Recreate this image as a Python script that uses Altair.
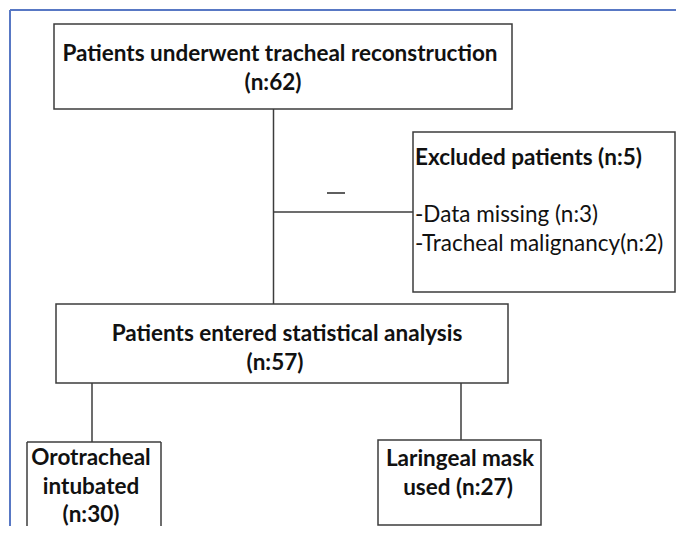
import altair as alt
import pandas as pd

# ---- content of the flow chart ----
node_titles = [
    "Patients underwent tracheal reconstruction",
    "Excluded patients",
    "Patients entered statistical analysis",
    "Orotracheal intubated",
    "Laringeal mask used",
]
node_counts = [62, 5, 57, 30, 27]
excluded_reasons = ["Data missing", "Tracheal malignancy"]
excluded_counts = [3, 2]

# ---- text lines per node (content built from the lists above) ----
lines = [
    [node_titles[0], f"(n:{node_counts[0]})"],
    [f"{node_titles[1]} (n:{node_counts[1]})", "",
     f"-{excluded_reasons[0]} (n:{excluded_counts[0]})",
     f"-{excluded_reasons[1]}(n:{excluded_counts[1]})"],
    [node_titles[2], f"(n:{node_counts[2]})"],
    ["Orotracheal", "intubated", f"(n:{node_counts[3]})"],
    ["Laringeal mask", f"used (n:{node_counts[4]})"],
]

# ---- layout (pixel positions in page coordinates) ----
boxes = [  # x, x2, y, y2
    (54, 512, 24, 109),
    (413, 675, 132, 292),
    (56, 508, 304, 383),
    (27, 161, 442, 527),
    (378, 541, 440, 525),
]
closed = [True, True, True, False, True]
line_pos = [  # per node: list of (x, y), align, bold flags
    ([(280, 54), (273, 83)], "center", [True, True]),
    ([(415, 158), (415, 186), (415, 215), (415, 244)], "left", [True, False, False, False]),
    ([(287, 334), (275, 363)], "center", [True, True]),
    ([(91, 458), (91, 487), (91, 515)], "center", [True, True, True]),
    ([(460, 459), (458, 488)], "center", [True, True]),
]
connectors = [  # x, x2, y, y2
    (273.5, 273.5, 109, 304),
    (273.5, 413, 212, 212),
    (92, 92, 383, 442),
    (461, 461, 383, 440),
]
dash = [(327, 345, 193, 193)]
frame = [(10, 676, 10, 10), (10, 10, 10, 526)]

FONT = "Lato"
FS = 22.5

xs = alt.Scale(domain=[8, 676], nice=False, zero=False)
ys = alt.Scale(domain=[8, 526], nice=False, zero=False, reverse=True)

def X(f):
    return alt.X(f, type="quantitative", scale=xs, axis=None)

def Y(f):
    return alt.Y(f, type="quantitative", scale=ys, axis=None)

rect_df = pd.DataFrame([dict(x=b[0], x2=b[1], y=b[2], y2=b[3])
                        for b, c in zip(boxes, closed) if c])
open_edges = []
for b, c in zip(boxes, closed):
    if not c:
        x, x2, y, y2 = b
        open_edges += [(x, x, y, y2), (x2, x2, y, y2), (x, x2, y, y)]
edge_df = pd.DataFrame([dict(x=a, x2=b, y=c, y2=d) for a, b, c, d in connectors + open_edges])
dash_df = pd.DataFrame([dict(x=a, x2=b, y=c, y2=d) for a, b, c, d in dash])
frame_df = pd.DataFrame([dict(x=a, x2=b, y=c, y2=d) for a, b, c, d in frame])

rows = []
for node_lines, (pos, al, bolds) in zip(lines, line_pos):
    for t, (px, py), bd in zip(node_lines, pos, bolds):
        if t:
            rows.append(dict(text=t, x=px, y=py, al=al, bd=bd))
text_df = pd.DataFrame(rows)

frame_layer = alt.Chart(frame_df).mark_rule(color="#5878c4", strokeWidth=2).encode(
    x=X("x"), x2="x2", y=Y("y"), y2="y2")
rect_layer = alt.Chart(rect_df).mark_rect(
    fill="white", fillOpacity=0, stroke="#3c3c3c", strokeWidth=1.5).encode(
    x=X("x"), x2="x2", y=Y("y"), y2="y2")
edge_layer = alt.Chart(edge_df).mark_rule(color="#3c3c3c", strokeWidth=1.5).encode(
    x=X("x"), x2="x2", y=Y("y"), y2="y2")
dash_layer = alt.Chart(dash_df).mark_rule(color="#2a2a2a", strokeWidth=1.5).encode(
    x=X("x"), x2="x2", y=Y("y"), y2="y2")

def text_layer(df, align, bold):
    return alt.Chart(df).mark_text(
        font=FONT, fontSize=FS, fontWeight="bold" if bold else "normal",
        align=align, baseline="middle", color="#111111").encode(
        x=X("x"), y=Y("y"), text="text:N")

layers = [frame_layer, rect_layer, edge_layer, dash_layer]
for al in ["center", "left"]:
    for bd in [True, False]:
        sub = text_df[(text_df["al"] == al) & (text_df["bd"] == bd)][["text", "x", "y"]]
        if len(sub):
            layers.append(text_layer(sub, al, bd))

chart = alt.layer(*layers).properties(
    width=668, height=518, padding=0, autosize=alt.AutoSizeParams(type="none"),
    background="white",
).configure_view(stroke=None)

chart.save("out.html", embed_options={"renderer": "svg", "actions": False})
